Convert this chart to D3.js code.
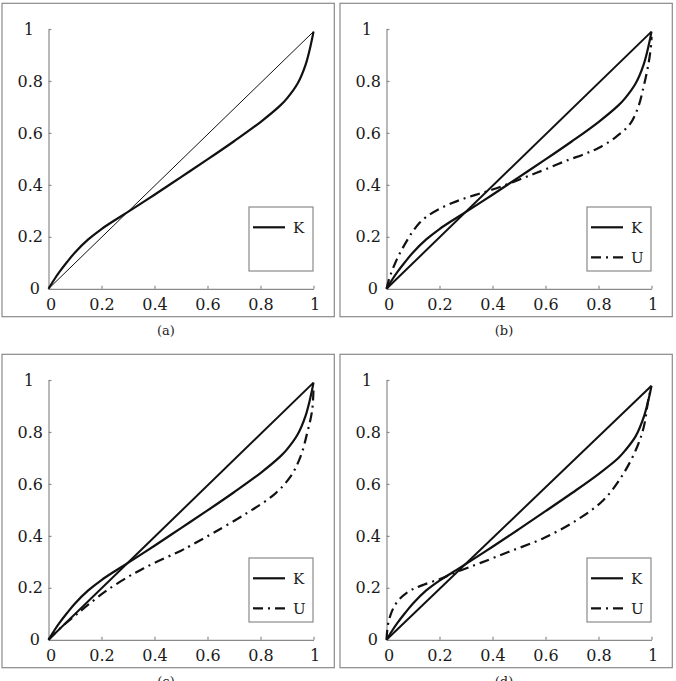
<!DOCTYPE html>
<html><head><meta charset="utf-8">
<script src="https://cdn.jsdelivr.net/npm/d3@7"></script>
<style>body{margin:0;background:#fff}svg{display:block}</style>
</head><body>
<svg id="c" width="676" height="681"></svg>
<script>
// ---- data ----
const panelNames = ["(a)", "(b)", "(c)", "(d)"];
const tickValues = [0, 0.2, 0.4, 0.6, 0.8, 1];
const tickLabels = ["0", "0.2", "0.4", "0.6", "0.8", "1"];
const legendLabels = ["K", "U"];

// diagonal (equality line) endpoints per panel
const diagX = [0, 1];
const diagEndY = [0.99, 0.99, 0.99, 0.978];

// K curve
const kX = [0, 0.02, 0.04, 0.07, 0.1, 0.15, 0.2, 0.25, 0.3, 0.4, 0.5, 0.6, 0.7, 0.8, 0.875, 0.9, 0.94, 0.97, 0.99, 1];
const kY = [0, 0.033, 0.063, 0.103, 0.14, 0.19, 0.23, 0.264, 0.296, 0.362, 0.43, 0.498, 0.568, 0.642, 0.706, 0.733, 0.79, 0.862, 0.94, 0.99];
const kYd = [0, 0.033, 0.063, 0.103, 0.14, 0.19, 0.228, 0.26, 0.292, 0.358, 0.426, 0.495, 0.565, 0.638, 0.7, 0.728, 0.783, 0.855, 0.93, 0.978];

// U curves
const uBX = [0, 0.01, 0.02, 0.035, 0.05, 0.08, 0.1, 0.125, 0.15, 0.2, 0.25, 0.3, 0.35, 0.4, 0.45, 0.5, 0.55, 0.6, 0.676, 0.75, 0.8, 0.864, 0.92, 0.95, 0.97, 0.989, 0.999, 1];
const uBY = [0, 0.038, 0.067, 0.104, 0.136, 0.19, 0.222, 0.254, 0.277, 0.308, 0.331, 0.35, 0.366, 0.382, 0.4, 0.42, 0.44, 0.46, 0.492, 0.52, 0.542, 0.583, 0.636, 0.7, 0.777, 0.868, 0.945, 0.97];

const uCX = [0, 0.05, 0.1, 0.15, 0.22, 0.3, 0.346, 0.4, 0.5, 0.535, 0.623, 0.749, 0.85, 0.913, 0.951, 0.976, 0.995, 1];
const uCY = [0, 0.05, 0.093, 0.135, 0.19, 0.242, 0.268, 0.296, 0.343, 0.362, 0.412, 0.488, 0.558, 0.628, 0.705, 0.795, 0.884, 0.97];

const uDX = [0, 0.005, 0.015, 0.03, 0.05, 0.075, 0.1, 0.14, 0.204, 0.267, 0.355, 0.468, 0.594, 0.72, 0.82, 0.895, 0.946, 0.971, 0.99, 1];
const uDY = [0, 0.055, 0.095, 0.13, 0.158, 0.18, 0.195, 0.212, 0.235, 0.262, 0.296, 0.341, 0.392, 0.462, 0.539, 0.641, 0.743, 0.82, 0.935, 0.97];

const zip = (xs, ys) => xs.map((x, i) => [x, ys[i]]);
const panels = [
  {name: panelNames[0], diag: zip(diagX, [0, diagEndY[0]]), k: zip(kX, kY), u: null, thinDiag: true},
  {name: panelNames[1], diag: zip(diagX, [0, diagEndY[1]]), k: zip(kX, kY), u: zip(uBX, uBY)},
  {name: panelNames[2], diag: zip(diagX, [0, diagEndY[2]]), k: zip(kX, kY), u: zip(uCX, uCY)},
  {name: panelNames[3], diag: zip(diagX, [0, diagEndY[3]]), k: zip(kX, kYd), u: zip(uDX, uDY)}
];

// ---- layout ----
const svg = d3.select("#c");
const origins = [[0, 0], [338, 0], [0, 351], [338, 351]];
const FONT = "'DejaVu Serif', serif";
const gray = "#8a8a8a";
const dashDot = "10,5,2,5";

panels.forEach((p, i) => {
  const g = svg.append("g").attr("transform", `translate(${origins[i][0]},${origins[i][1]})`);
  g.append("rect").attr("x", 2).attr("y", 3.3).attr("width", 332.3).attr("height", 313.4)
    .attr("fill", "none").attr("stroke", gray).attr("stroke-width", 1.2);
  g.append("text").attr("x", 166).attr("y", 334.5).attr("text-anchor", "middle")
    .attr("font-family", FONT).attr("font-size", 13).attr("fill", "#222").text(p.name);

  const x = d3.scaleLinear().domain([0, 1]).range([48.5, 313.5]);
  const y = d3.scaleLinear().domain([0, 1]).range([288.8, 29]);

  const xa = g.append("g").attr("transform", `translate(0,${y(0)})`)
    .call(d3.axisBottom(x).tickValues(tickValues).tickFormat((d, j) => tickLabels[j])
      .tickSizeInner(-3).tickSizeOuter(0).tickPadding(10));
  const ya = g.append("g").attr("transform", `translate(${x(0)},0)`)
    .call(d3.axisLeft(y).tickValues(tickValues).tickFormat((d, j) => tickLabels[j])
      .tickSizeInner(-3).tickSizeOuter(0).tickPadding(5.5));
  [xa, ya].forEach(a => {
    a.select(".domain").attr("stroke", gray).attr("stroke-width", 1.2);
    a.selectAll(".tick line").attr("stroke", gray).attr("stroke-width", 1.2);
    a.selectAll(".tick text").attr("font-family", FONT).attr("font-size", 16).attr("fill", "#1a1a1a");
  });
  xa.selectAll(".tick text").attr("dx", d => d === 0 ? 2 : (d === 1 ? 1 : 0));
  ya.selectAll(".tick text").attr("dx", d => d === 1 ? -9 : (d === 0 ? -3 : 0));

  const line = d3.line().x(d => x(d[0])).y(d => y(d[1])).curve(d3.curveCatmullRom.alpha(0.5));
  g.append("path").datum(p.diag).attr("d", line).attr("fill", "none")
    .attr("stroke", "#111").attr("stroke-width", p.thinDiag ? 1 : 2);
  g.append("path").datum(p.k).attr("d", line).attr("fill", "none")
    .attr("stroke", "#111").attr("stroke-width", 2.2);
  if (p.u) {
    g.append("path").datum(p.u).attr("d", line).attr("fill", "none")
      .attr("stroke", "#111").attr("stroke-width", 2.2).attr("stroke-dasharray", dashDot);
  }

  // legend
  const lg = g.append("g");
  lg.append("rect").attr("x", 249).attr("y", 207).attr("width", 64).attr("height", 64)
    .attr("fill", "#fff").attr("stroke", gray).attr("stroke-width", 1.2);
  const entries = p.u ? legendLabels : [legendLabels[0]];
  entries.forEach((lab, j) => {
    const yy = 227.3 + j * 30;
    lg.append("line").attr("x1", 253).attr("x2", 285).attr("y1", yy).attr("y2", yy)
      .attr("stroke", "#111").attr("stroke-width", 2.2)
      .attr("stroke-dasharray", j === 1 ? dashDot : null);
    lg.append("text").attr("x", 293).attr("y", yy).attr("dy", "0.35em")
      .attr("font-family", FONT).attr("font-size", 15).attr("fill", "#1a1a1a").text(lab);
  });
});
</script>
</body></html>
